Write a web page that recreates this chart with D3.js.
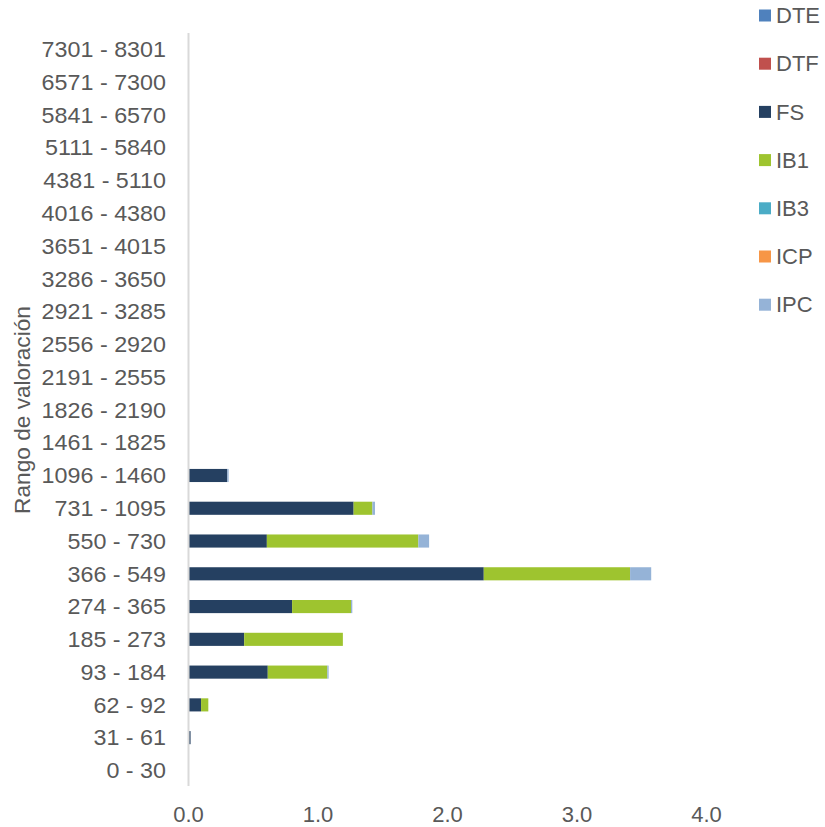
<!DOCTYPE html>
<html>
<head>
<meta charset="utf-8">
<script src="https://cdn.jsdelivr.net/npm/d3@7"></script>
<style>
  body { margin: 0; background: #fff; }
  text { font-family: "Liberation Sans", Arial, sans-serif; fill: #595959; }
</style>
</head>
<body>
<div id="chart"></div>
<script>
// categories, top to bottom
const categories = ["7301 - 8301", "6571 - 7300", "5841 - 6570", "5111 - 5840", "4381 - 5110",
  "4016 - 4380", "3651 - 4015", "3286 - 3650", "2921 - 3285", "2556 - 2920", "2191 - 2555",
  "1826 - 2190", "1461 - 1825", "1096 - 1460", "731 - 1095", "550 - 730", "366 - 549",
  "274 - 365", "185 - 273", "93 - 184", "62 - 92", "31 - 61", "0 - 30"];

const seriesNames = ["DTE", "DTF", "FS", "IB1", "IB3", "ICP", "IPC"];
const seriesColors = ["#4F81BD", "#C0504D", "#254061", "#9EC42F", "#4BACC6", "#F79646", "#95B3D7"];

const DTE = [0,0,0,0,0,0,0,0,0,0,0,0,0,0,0,0,0,0,0,0,0,0,0];
const DTF = [0,0,0,0,0,0,0,0,0,0,0,0,0,0,0,0,0,0,0,0,0,0,0];
const FS  = [0,0,0,0,0,0,0,0,0,0,0,0,0,0.30,1.275,0.605,2.28,0.80,0.43,0.612,0.097,0.016,0];
const IB1 = [0,0,0,0,0,0,0,0,0,0,0,0,0,0,0.145,1.17,1.13,0.455,0.762,0.46,0.056,0,0];
const IB3 = [0,0,0,0,0,0,0,0,0,0,0,0,0,0,0,0,0,0,0,0,0,0,0];
const ICP = [0,0,0,0,0,0,0,0,0,0,0,0,0,0,0,0,0,0,0,0,0,0,0];
const IPC = [0,0,0,0,0,0,0,0,0,0,0,0,0,0.01,0.02,0.083,0.163,0.01,0,0.01,0,0,0];

const xTicks = [0, 1, 2, 3, 4];

const width = 825;
const height = 827;
const margin = {top: 33, left: 188.5};
const fontSize = 22;

const rows = categories.map(function(c, i) {
    return {cat: c, DTE: DTE[i], DTF: DTF[i], FS: FS[i], IB1: IB1[i], IB3: IB3[i], ICP: ICP[i], IPC: IPC[i]};
});

const svg = d3.select("#chart")
    .append("svg")
    .attr("width", width)
    .attr("height", height);

const xScale = d3.scaleLinear()
    .domain([0, 4.5])
    .range([margin.left, margin.left + 129.5 * 4.5]);

const yScale = d3.scaleBand()
    .domain(categories)
    .range([33.1, 786.8])
    .paddingInner(0.6)
    .paddingOuter(0.3);

const stacked = d3.stack().keys(seriesNames)(rows);

// bars
svg.selectAll("g.series")
    .data(stacked)
    .enter()
    .append("g")
    .attr("class", "series")
    .attr("fill", function(d, i) { return seriesColors[i]; })
    .selectAll("rect")
    .data(function(d) { return d; })
    .enter()
    .append("rect")
    .attr("x", function(d) { return xScale(d[0]); })
    .attr("y", function(d) { return yScale(d.data.cat); })
    .attr("width", function(d) { return xScale(d[1]) - xScale(d[0]); })
    .attr("height", yScale.bandwidth());

// vertical axis line
svg.append("line")
    .attr("x1", xScale(0))
    .attr("x2", xScale(0))
    .attr("y1", margin.top)
    .attr("y2", 786)
    .attr("stroke", "#d9d9d9")
    .attr("stroke-width", 2);

// category labels
svg.selectAll("text.cat")
    .data(categories)
    .enter()
    .append("text")
    .attr("class", "cat")
    .attr("transform", function(d) {
        return `translate(166,${yScale(d) + yScale.bandwidth() / 2}) scale(1.06,1)`;
    })
    .attr("dy", "0.35em")
    .attr("text-anchor", "end")
    .attr("font-size", fontSize)
    .text(function(d) { return d; });

// x tick labels
svg.selectAll("text.xtick")
    .data(xTicks)
    .enter()
    .append("text")
    .attr("class", "xtick")
    .attr("x", function(d) { return xScale(d); })
    .attr("y", 822)
    .attr("text-anchor", "middle")
    .attr("font-size", fontSize)
    .text(function(d) { return d.toFixed(1); });

// y axis title
svg.append("text")
    .attr("transform", "translate(30,410) rotate(-90) scale(1.03,1)")
    .attr("text-anchor", "middle")
    .attr("font-size", fontSize)
    .text("Rango de valoración");

// legend
const legend = svg.selectAll("g.legend")
    .data(seriesNames)
    .enter()
    .append("g")
    .attr("class", "legend")
    .attr("transform", function(d, i) { return `translate(759,${15.5 + i * 48.2})`; });

legend.append("rect")
    .attr("x", 0)
    .attr("y", -6)
    .attr("width", 12)
    .attr("height", 12)
    .attr("fill", function(d, i) { return seriesColors[i]; });

legend.append("text")
    .attr("x", 17)
    .attr("y", 0)
    .attr("dy", "0.35em")
    .attr("font-size", fontSize)
    .text(function(d) { return d; });
</script>
</body>
</html>
